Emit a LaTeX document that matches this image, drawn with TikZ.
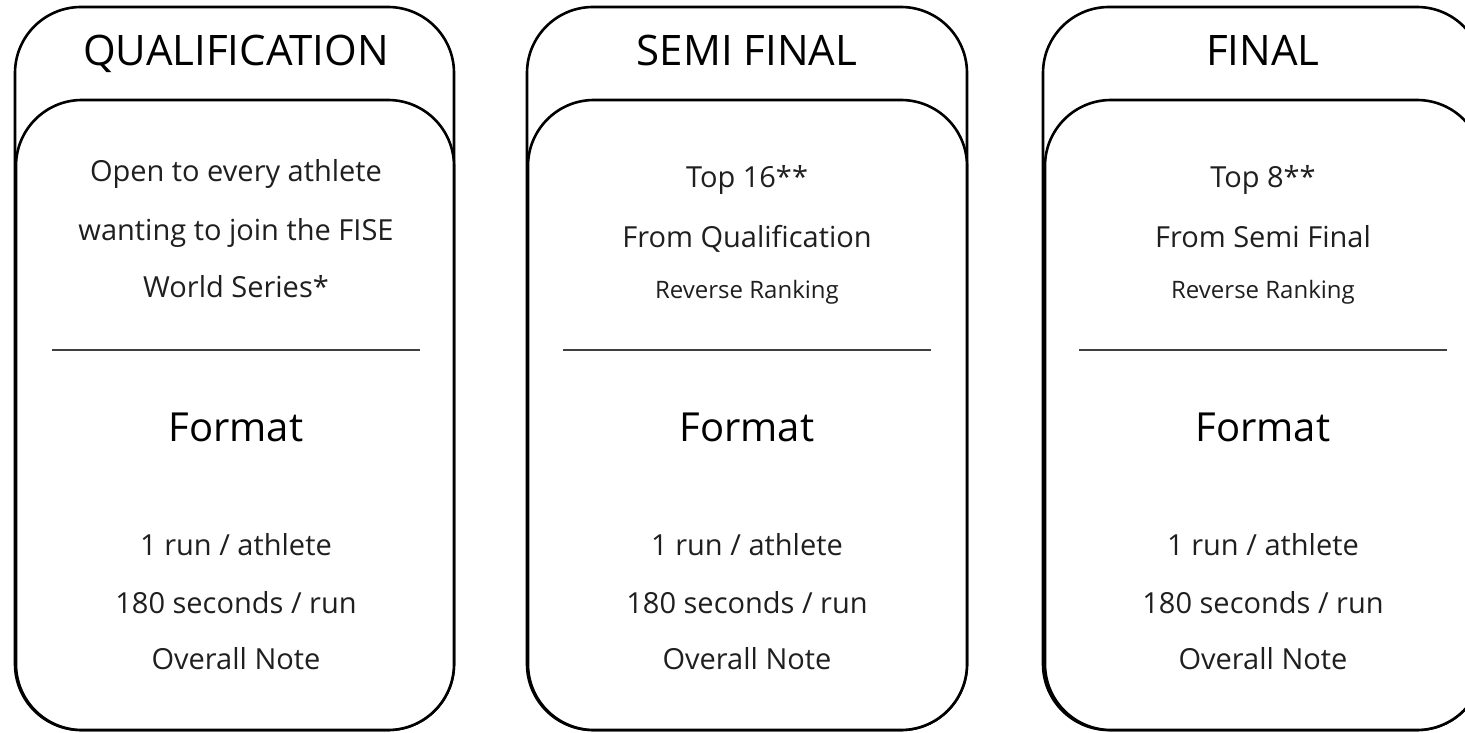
\documentclass[tikz,border=0pt]{standalone}
\usepackage{fontspec}
\setmainfont{Open Sans}

\tikzset{
  card/.style={line width=2.6pt, rounded corners=66pt},
  title/.style={anchor=base, font=\fontsize{42}{44}\selectfont},
  fmt/.style={anchor=base, font=\fontsize{40}{42}\selectfont},
  body/.style={anchor=base, font=\fontsize{29}{32}\selectfont, text=black!88},
  small/.style={anchor=base, font=\fontsize{24}{26}\selectfont, text=black!88},
  rule/.style={line width=1.3pt, black!75},
}

\begin{document}
\begin{tikzpicture}[x=1pt, y=-1pt]
  \useasboundingbox (0, 0) rectangle (1465, 733);
  \clip (0, 0) rectangle (1465, 733);

  % qualification
  \draw[card] (15, 7) rectangle (454, 730);
  \draw[card, fill=white] (16, 100) rectangle (454, 730);
  \node[title] (qtitle) at (236, 66) {QUALIFICATION};
  \node[body] (qopen) at (236, 182) {Open to every athlete};
  \node[body] (qwant) at (236, 240) {wanting to join the FISE};
  \node[body] (qseries) at (236, 297) {World Series*};
  \draw[rule] (52, 350) -- (420, 350);
  \node[fmt] (qformat) at (236, 441) {Format};
  \node[body] (qrun) at (236, 555) {1 run / athlete};
  \node[body] (qsec) at (236, 613) {180 seconds / run};
  \node[body] (qnote) at (236, 669) {Overall Note};

  % semi final
  \draw[card] (527, 7) rectangle (967, 730);
  \draw[card, fill=white] (528, 100) rectangle (967, 730);
  \node[title] (stitle) at (747, 66) {SEMI FINAL};
  \node[body] (stop) at (747, 188) {Top 16**};
  \node[body] (sfrom) at (747, 247) {From Qualification};
  \node[small] (srank) at (747, 298) {Reverse Ranking};
  \draw[rule] (563, 350) -- (931, 350);
  \node[fmt] (sformat) at (747, 441) {Format};
  \node[body] (srun) at (747, 555) {1 run / athlete};
  \node[body] (ssec) at (747, 613) {180 seconds / run};
  \node[body] (snote) at (747, 669) {Overall Note};

  % final
  \draw[card] (1043, 7) rectangle (1483, 730);
  \draw[card, fill=white] (1045, 100) rectangle (1483, 730);
  \node[title] (ftitle) at (1263, 66) {FINAL};
  \node[body] (ftop) at (1263, 188) {Top 8**};
  \node[body] (ffrom) at (1263, 247) {From Semi Final};
  \node[small] (frank) at (1263, 298) {Reverse Ranking};
  \draw[rule] (1079, 350) -- (1447, 350);
  \node[fmt] (fformat) at (1263, 441) {Format};
  \node[body] (frun) at (1263, 555) {1 run / athlete};
  \node[body] (fsec) at (1263, 613) {180 seconds / run};
  \node[body] (fnote) at (1263, 669) {Overall Note};
\end{tikzpicture}
\end{document}
